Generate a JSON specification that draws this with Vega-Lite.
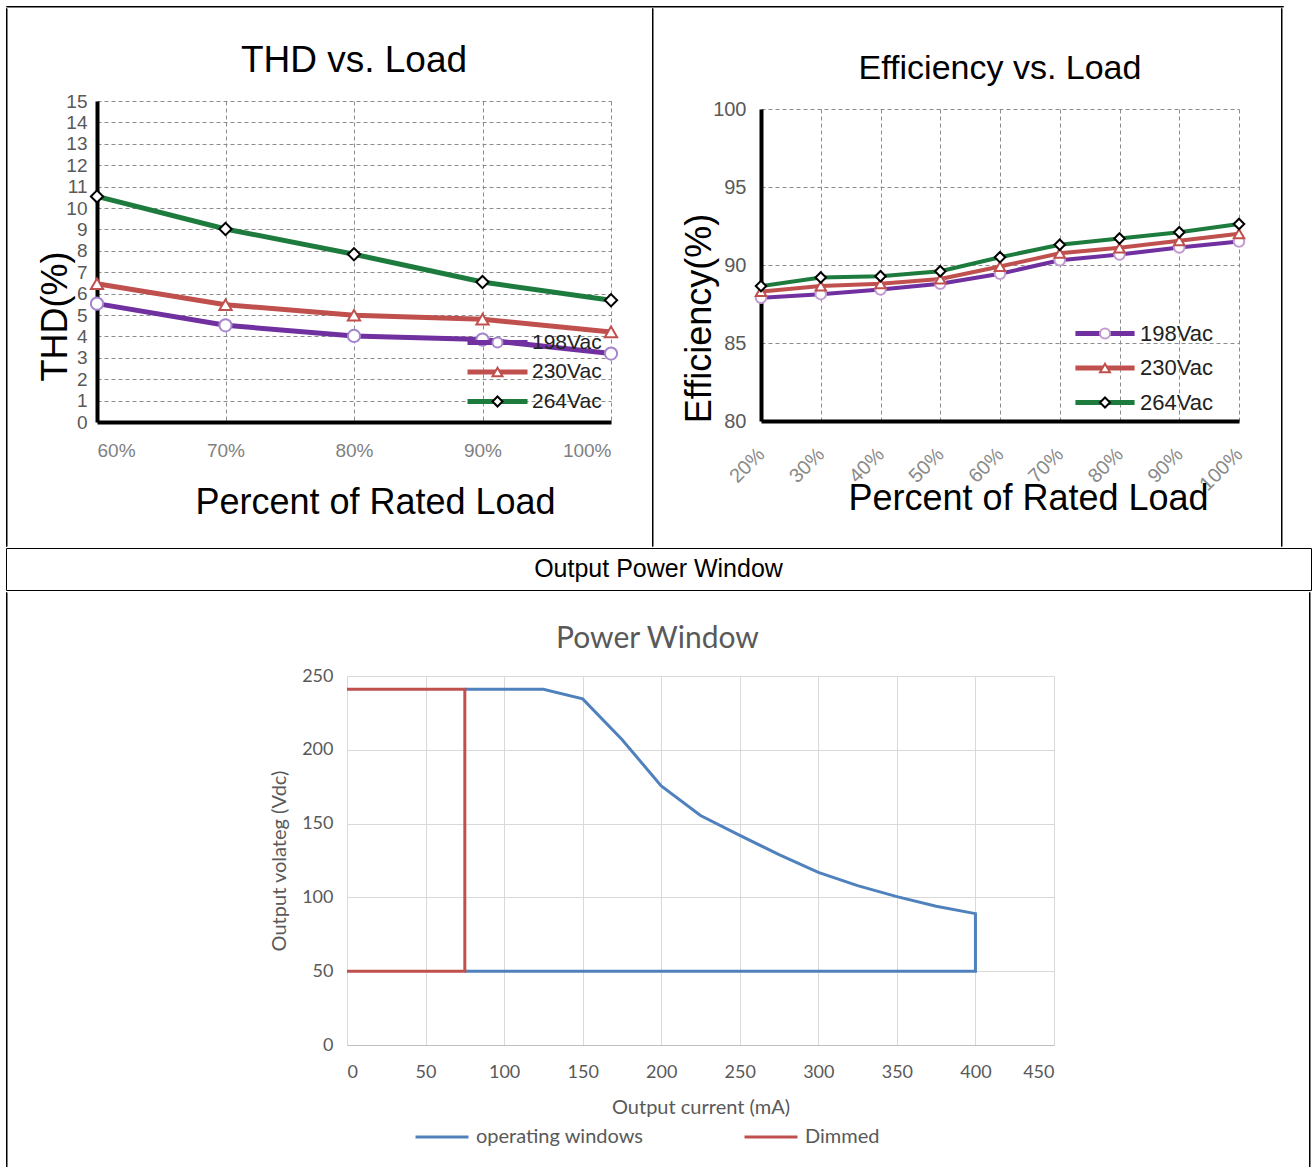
{
  "$schema": "https://vega.github.io/schema/vega-lite/v6.json",
  "background": "white",
  "padding": {"left": 5, "top": 5, "right": 0, "bottom": 0},
  "datasets": {
    "thd": [
      {"series": "198Vac", "load": 60, "thd": 5.53},
      {"series": "198Vac", "load": 70, "thd": 4.52},
      {"series": "198Vac", "load": 80, "thd": 4.02},
      {"series": "198Vac", "load": 90, "thd": 3.85},
      {"series": "198Vac", "load": 100, "thd": 3.2},
      {"series": "230Vac", "load": 60, "thd": 6.46},
      {"series": "230Vac", "load": 70, "thd": 5.48},
      {"series": "230Vac", "load": 80, "thd": 4.99},
      {"series": "230Vac", "load": 90, "thd": 4.8},
      {"series": "230Vac", "load": 100, "thd": 4.21},
      {"series": "264Vac", "load": 60, "thd": 10.54},
      {"series": "264Vac", "load": 70, "thd": 9.02},
      {"series": "264Vac", "load": 80, "thd": 7.84},
      {"series": "264Vac", "load": 90, "thd": 6.54},
      {"series": "264Vac", "load": 100, "thd": 5.69}
    ],
    "eff": [
      {"series": "198Vac", "load": 20, "eff": 87.9},
      {"series": "198Vac", "load": 30, "eff": 88.13},
      {"series": "198Vac", "load": 40, "eff": 88.43},
      {"series": "198Vac", "load": 50, "eff": 88.8},
      {"series": "198Vac", "load": 60, "eff": 89.44},
      {"series": "198Vac", "load": 70, "eff": 90.3},
      {"series": "198Vac", "load": 80, "eff": 90.67},
      {"series": "198Vac", "load": 90, "eff": 91.12},
      {"series": "198Vac", "load": 100, "eff": 91.5},
      {"series": "230Vac", "load": 20, "eff": 88.3},
      {"series": "230Vac", "load": 30, "eff": 88.65},
      {"series": "230Vac", "load": 40, "eff": 88.8},
      {"series": "230Vac", "load": 50, "eff": 89.1},
      {"series": "230Vac", "load": 60, "eff": 89.9},
      {"series": "230Vac", "load": 70, "eff": 90.75},
      {"series": "230Vac", "load": 80, "eff": 91.1},
      {"series": "230Vac", "load": 90, "eff": 91.55},
      {"series": "230Vac", "load": 100, "eff": 92.0},
      {"series": "264Vac", "load": 20, "eff": 88.65},
      {"series": "264Vac", "load": 30, "eff": 89.2},
      {"series": "264Vac", "load": 40, "eff": 89.28},
      {"series": "264Vac", "load": 50, "eff": 89.6},
      {"series": "264Vac", "load": 60, "eff": 90.5},
      {"series": "264Vac", "load": 70, "eff": 91.3},
      {"series": "264Vac", "load": 80, "eff": 91.7},
      {"series": "264Vac", "load": 90, "eff": 92.1},
      {"series": "264Vac", "load": 100, "eff": 92.63}
    ],
    "pw": [
      {"series": "operating windows", "pt": 1, "current": 75, "voltage": 241},
      {"series": "operating windows", "pt": 2, "current": 125, "voltage": 241},
      {"series": "operating windows", "pt": 3, "current": 150, "voltage": 234.5},
      {"series": "operating windows", "pt": 4, "current": 175, "voltage": 207},
      {"series": "operating windows", "pt": 5, "current": 200, "voltage": 175.5},
      {"series": "operating windows", "pt": 6, "current": 225, "voltage": 155.5},
      {"series": "operating windows", "pt": 7, "current": 250, "voltage": 142},
      {"series": "operating windows", "pt": 8, "current": 275, "voltage": 129},
      {"series": "operating windows", "pt": 9, "current": 300, "voltage": 117},
      {"series": "operating windows", "pt": 10, "current": 325, "voltage": 108},
      {"series": "operating windows", "pt": 11, "current": 350, "voltage": 100.5},
      {"series": "operating windows", "pt": 12, "current": 375, "voltage": 94},
      {"series": "operating windows", "pt": 13, "current": 400, "voltage": 89},
      {"series": "operating windows", "pt": 14, "current": 400, "voltage": 50},
      {"series": "operating windows", "pt": 15, "current": 75, "voltage": 50},
      {"series": "Dimmed", "pt": 1, "current": 0, "voltage": 241},
      {"series": "Dimmed", "pt": 2, "current": 75, "voltage": 241},
      {"series": "Dimmed", "pt": 3, "current": 75, "voltage": 50},
      {"series": "Dimmed", "pt": 4, "current": 0, "voltage": 50}
    ],
    "hdr": [{"label": "Output Power Window"}]
  },
  "resolve": {
    "scale": {"color": "independent", "shape": "independent", "stroke": "independent"},
    "legend": {"color": "independent", "shape": "independent", "stroke": "independent"}
  },
  "spacing": 0,
  "vconcat": [
    {"width": 1277, "height": 0.5, "data": {"values": []}, "mark": "point", "view": {"stroke": "black", "strokeWidth": 1}},
    {
      "resolve": {
        "scale": {"color": "independent", "shape": "independent", "stroke": "independent"},
        "legend": {"color": "independent", "shape": "independent", "stroke": "independent"}
      },
      "spacing": 0,
      "hconcat": [
        {"width": 0.5, "height": 538, "data": {"values": []}, "mark": "point", "view": {"stroke": "black", "strokeWidth": 1}},
        {"width": 30, "height": 0.5, "data": {"values": []}, "mark": "point"},
        {
          "resolve": {
            "scale": {"color": "independent", "shape": "independent", "stroke": "independent"},
            "legend": {"color": "independent", "shape": "independent", "stroke": "independent"}
          },
          "spacing": 0,
          "vconcat": [
            {
              "width": 514, "height": 84,
              "data": {"values": [{}]},
              "mark": {"type": "text", "fontSize": 37, "font": "Liberation Sans", "color": "black", "baseline": "middle", "dy": 11},
              "encoding": {"text": {"value": "THD vs. Load"}}
            },
            {
              "width": 514,
              "height": 321,
              "data": {"name": "thd"},
              "encoding": {
                "x": {
                  "field": "load", "type": "quantitative",
                  "scale": {"domain": [60, 100], "nice": false, "zero": false},
                  "axis": {
                    "values": [60, 70, 80, 90, 100],
                    "labelExpr": "datum.value + '%'",
                    "title": "Percent of Rated Load",
                    "titleX": 278, "titleY": 80, "titleBaseline": "middle",
                    "titleFontSize": 36,
                    "labelPadding": 19, "labelFontSize": 19, "labelColor": "#7f7f7f"
                  }
                },
                "y": {
                  "field": "thd", "type": "quantitative",
                  "scale": {"domain": [0, 15], "nice": false},
                  "axis": {
                    "values": [0, 1, 2, 3, 4, 5, 6, 7, 8, 9, 10, 11, 12, 13, 14, 15],
                    "title": "THD(%)",
                    "titleX": -42, "titleY": 215, "titleBaseline": "middle",
                    "titleFontSize": 36,
                    "labelPadding": 10, "labelFontSize": 19,
                    "labelFont": "Liberation Sans Narrow, Liberation Sans"
                  }
                }
              },
              "layer": [
                {
                  "mark": {"type": "line", "strokeWidth": 5},
                  "encoding": {
                    "color": {
                      "field": "series", "type": "nominal",
                      "scale": {"range": ["#7030A0", "#C0504D", "#1E7B3E"]},
                      "legend": {
                        "orient": "none", "legendX": 390, "legendY": 231, "title": null,
                        "symbolType": "M-5,0H5", "symbolSize": 144, "symbolStrokeWidth": 5,
                        "labelFontSize": 21, "labelFont": "Liberation Sans Narrow, Liberation Sans",
                        "labelColor": "#222", "rowPadding": 7.5, "labelOffset": 24
                      }
                    }
                  }
                },
                {
                  "mark": {"type": "point", "filled": true, "fill": "white", "size": 150, "strokeWidth": 2, "opacity": 1},
                  "encoding": {
                    "shape": {
                      "field": "series", "type": "nominal",
                      "scale": {"domain": ["198Vac", "230Vac", "264Vac"], "range": ["circle", "triangle-up", "diamond"]},
                      "legend": {
                        "orient": "none", "legendX": 390, "legendY": 231, "title": null,
                        "labelFontSize": 21, "labelFont": "Liberation Sans Narrow, Liberation Sans",
                        "labelOpacity": 0, "rowPadding": 7.5, "labelOffset": 24, "symbolStrokeWidth": 2, "symbolFillColor": "white"
                      }
                    },
                    "stroke": {
                      "field": "series", "type": "nominal",
                      "scale": {"domain": ["198Vac", "230Vac", "264Vac"], "range": ["#A585D0", "#C0504D", "#000000"]},
                      "legend": {
                        "orient": "none", "legendX": 390, "legendY": 231, "title": null,
                        "labelFontSize": 21, "labelFont": "Liberation Sans Narrow, Liberation Sans",
                        "labelOpacity": 0, "rowPadding": 7.5, "labelOffset": 24, "symbolStrokeWidth": 2, "symbolFillColor": "white"
                      }
                    }
                  }
                }
              ]
            }
          ]
        },
        {"width": 29, "height": 0.5, "data": {"values": []}, "mark": "point"},
        {"width": 0.5, "height": 538, "data": {"values": []}, "mark": "point", "view": {"stroke": "black", "strokeWidth": 1}},
        {"width": 28, "height": 0.5, "data": {"values": []}, "mark": "point"},
        {
          "resolve": {
            "scale": {"color": "independent", "shape": "independent", "stroke": "independent"},
            "legend": {"color": "independent", "shape": "independent", "stroke": "independent"}
          },
          "spacing": 0,
          "vconcat": [
            {
              "width": 478, "height": 91,
              "data": {"values": [{}]},
              "mark": {"type": "text", "fontSize": 34, "font": "Liberation Sans", "color": "black", "baseline": "middle", "dy": 15},
              "encoding": {"text": {"value": "Efficiency vs. Load"}}
            },
            {
              "width": 478,
              "height": 312,
              "data": {"name": "eff"},
              "encoding": {
                "x": {
                  "field": "load", "type": "quantitative",
                  "scale": {"domain": [20, 100], "nice": false, "zero": false},
                  "axis": {
                    "values": [20, 30, 40, 50, 60, 70, 80, 90, 100],
                    "labelExpr": "datum.value + '%'",
                    "labelAngle": -45, "labelAlign": "right", "labelBaseline": "middle",
                    "title": "Percent of Rated Load",
                    "titleX": 267, "titleY": 77, "titleBaseline": "middle",
                    "titleFontSize": 36,
                    "labelPadding": 30, "labelFontSize": 20, "labelColor": "#8a8a8a"
                  }
                },
                "y": {
                  "field": "eff", "type": "quantitative",
                  "scale": {"domain": [80, 100], "nice": false, "zero": false},
                  "axis": {
                    "values": [80, 85, 90, 95, 100],
                    "title": "Efficiency(%)",
                    "titleX": -62, "titleY": 209, "titleBaseline": "middle",
                    "titleFontSize": 36,
                    "labelPadding": 15, "labelFontSize": 20,
                    "labelFont": "Liberation Sans Narrow, Liberation Sans"
                  }
                }
              },
              "layer": [
                {
                  "mark": {"type": "line", "strokeWidth": 4},
                  "encoding": {
                    "color": {
                      "field": "series", "type": "nominal",
                      "scale": {"range": ["#7030A0", "#C0504D", "#1E7B3E"]},
                      "legend": {
                        "orient": "none", "legendX": 333, "legendY": 213.5, "title": null,
                        "symbolType": "M-5,0H5", "symbolSize": 140, "symbolStrokeWidth": 5,
                        "labelFontSize": 22, "labelFont": "Liberation Sans Narrow, Liberation Sans",
                        "labelColor": "#222", "rowPadding": 12.5, "labelOffset": 24
                      }
                    }
                  }
                },
                {
                  "mark": {"type": "point", "filled": true, "fill": "white", "size": 110, "strokeWidth": 2, "opacity": 1},
                  "encoding": {
                    "shape": {
                      "field": "series", "type": "nominal",
                      "scale": {"domain": ["198Vac", "230Vac", "264Vac"], "range": ["circle", "triangle-up", "diamond"]},
                      "legend": {
                        "orient": "none", "legendX": 333, "legendY": 213.5, "title": null,
                        "labelFontSize": 22, "labelFont": "Liberation Sans Narrow, Liberation Sans",
                        "labelOpacity": 0, "rowPadding": 12.5, "labelOffset": 24, "symbolStrokeWidth": 2, "symbolFillColor": "white"
                      }
                    },
                    "stroke": {
                      "field": "series", "type": "nominal",
                      "scale": {"domain": ["198Vac", "230Vac", "264Vac"], "range": ["#C39BD3", "#C0504D", "#000000"]},
                      "legend": {
                        "orient": "none", "legendX": 333, "legendY": 213.5, "title": null,
                        "labelFontSize": 22, "labelFont": "Liberation Sans Narrow, Liberation Sans",
                        "labelOpacity": 0, "rowPadding": 12.5, "labelOffset": 24, "symbolStrokeWidth": 2, "symbolFillColor": "white"
                      }
                    }
                  }
                }
              ]
            }
          ]
        },
        {"width": 31, "height": 0.5, "data": {"values": []}, "mark": "point"},
        {"width": 0.5, "height": 538, "data": {"values": []}, "mark": "point", "view": {"stroke": "black", "strokeWidth": 1}}
      ]
    },
    {
      "width": 1305,
      "height": 42,
      "data": {"name": "hdr"},
      "view": {"stroke": "black", "strokeWidth": 1},
      "mark": {"type": "text", "fontSize": 25, "font": "Liberation Sans", "color": "black"},
      "encoding": {"text": {"field": "label", "type": "nominal"}}
    },
    {
      "resolve": {
        "scale": {"color": "independent", "shape": "independent", "stroke": "independent"},
        "legend": {"color": "independent", "shape": "independent", "stroke": "independent"}
      },
      "spacing": 0,
      "hconcat": [
        {"width": 0.5, "height": 578, "data": {"values": []}, "mark": "point", "view": {"stroke": "black", "strokeWidth": 1}},
        {"width": 262, "height": 0.5, "data": {"values": []}, "mark": "point"},
        {
          "resolve": {
            "scale": {"color": "independent", "shape": "independent", "stroke": "independent"},
            "legend": {"color": "independent", "shape": "independent", "stroke": "independent"}
          },
          "spacing": 0,
          "vconcat": [
            {
              "width": 707, "height": 75,
              "data": {"values": [{}]},
              "mark": {"type": "text", "fontSize": 30, "font": "Lato", "color": "#595959", "baseline": "middle", "dy": 9, "dx": -43},
              "encoding": {"text": {"value": "Power Window"}}
            },
            {
              "width": 707,
              "height": 369,
              "data": {"name": "pw"},
              "mark": {"type": "line", "strokeWidth": 3},
              "encoding": {
                "x": {
                  "field": "current", "type": "quantitative",
                  "scale": {"domain": [0, 450], "nice": false},
                  "axis": {
                    "values": [0, 50, 100, 150, 200, 250, 300, 350, 400, 450],
                    "title": "Output current (mA)",
                    "gridColor": "#D9D9D9", "gridDash": [], "gridWidth": 1,
                    "domain": true, "domainColor": "#BFBFBF", "domainWidth": 1,
                    "labelFont": "Lato", "labelFontSize": 18, "labelColor": "#595959", "labelPadding": 18,
                    "titleFont": "Lato", "titleFontSize": 20, "titleColor": "#595959", "titlePadding": 16
                  }
                },
                "y": {
                  "field": "voltage", "type": "quantitative",
                  "scale": {"domain": [0, 250], "nice": false},
                  "axis": {
                    "values": [0, 50, 100, 150, 200, 250],
                    "title": "Output  volateg (Vdc)",
                    "gridColor": "#D9D9D9", "gridDash": [], "gridWidth": 1,
                    "domain": false,
                    "labelFont": "Lato", "labelFontSize": 18, "labelColor": "#595959", "labelPadding": 14,
                    "titleFont": "Lato", "titleFontSize": 20, "titleColor": "#595959", "titlePadding": 12
                  }
                },
                "color": {
                  "field": "series", "type": "nominal",
                  "scale": {"domain": ["operating windows", "Dimmed"], "range": ["#4F81BD", "#C0504D"]},
                  "legend": {
                    "orient": "none", "legendX": 67, "legendY": 433, "direction": "horizontal", "title": null,
                    "symbolType": "stroke", "symbolSize": 2809, "symbolStrokeWidth": 3,
                    "labelFont": "Lato", "labelFontSize": 20, "labelColor": "#595959",
                    "columnPadding": 94, "labelOffset": 6, "labelLimit": 300
                  }
                },
                "order": {"field": "pt", "type": "quantitative"}
              }
            }
          ]
        },
        {"width": 254, "height": 0.5, "data": {"values": []}, "mark": "point"},
        {"width": 0.5, "height": 578, "data": {"values": []}, "mark": "point", "view": {"stroke": "black", "strokeWidth": 1}}
      ]
    }
  ],
  "config": {
    "view": {"stroke": null},
    "font": "Liberation Sans",
    "title": {"fontWeight": "normal", "color": "#000000", "font": "Liberation Sans"},
    "axis": {
      "ticks": false,
      "labelColor": "#595959",
      "titleColor": "#000000",
      "titleFontWeight": "normal",
      "titleFont": "Liberation Sans",
      "labelFont": "Liberation Sans",
      "domainColor": "#000000",
      "domainWidth": 4,
      "gridColor": "#8c8c8c",
      "gridDash": [4, 3],
      "gridWidth": 1,
      "gridOpacity": 1
    },
    "legend": {"titleFontWeight": "normal"}
  }
}
